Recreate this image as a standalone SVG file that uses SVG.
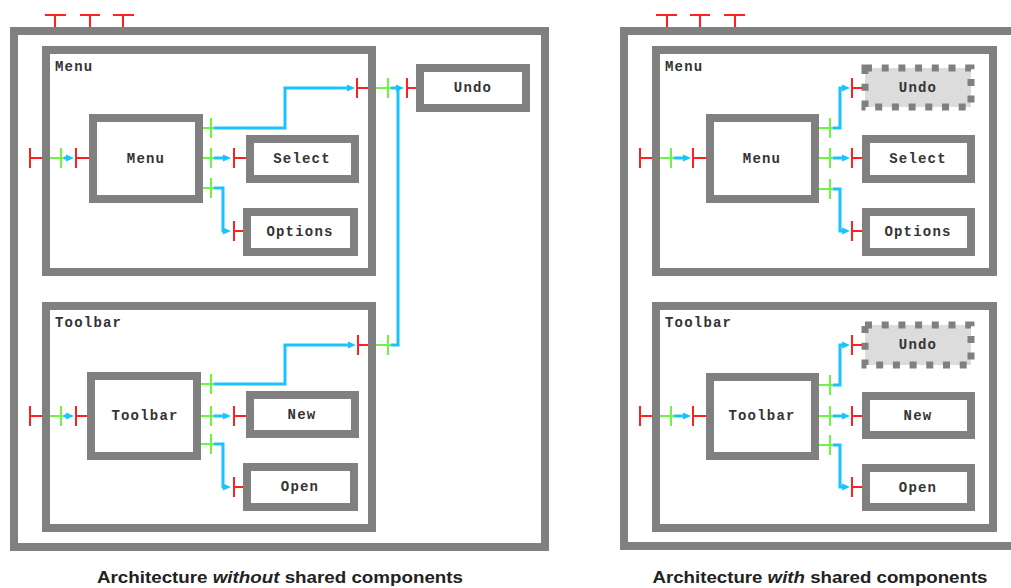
<svg xmlns="http://www.w3.org/2000/svg" width="1011" height="588" viewBox="0 0 1011 588">
<style>
.frame{fill:none;stroke:#808080;stroke-width:8}
.box{fill:#ffffff;stroke:#808080;stroke-width:8}
.shared{fill:#dcdcdc;stroke:#808080;stroke-width:7;stroke-dasharray:7 9.7}
.lbl{font-family:"Liberation Mono","Courier New",monospace;font-weight:bold;font-size:14px;letter-spacing:1.2px;fill:#333333;text-anchor:middle}
.clbl{font-family:"Liberation Mono","Courier New",monospace;font-weight:bold;font-size:14px;letter-spacing:1.2px;fill:#333333}
.rq{fill:none;stroke:#ff2020;stroke-width:2}
.pv{fill:none;stroke:#6cf542;stroke-width:2}
.ln{fill:none;stroke:#1ac3ff;stroke-width:3}
.arr{marker-end:url(#arr)}
.cap{font-family:"Liberation Sans",Arial,sans-serif;font-weight:bold;font-size:16px;fill:#222222;text-anchor:middle}
</style>
<defs>
<marker id="arr" markerUnits="userSpaceOnUse" markerWidth="9" markerHeight="8" refX="4" refY="4" orient="auto">
<path d="M0,0.5 L8,4 L0,7.5 z" fill="#1ac3ff"/>
</marker>
</defs>
<rect width="1011" height="588" fill="#ffffff"/>

<!-- LEFT: without shared components -->
<g id="left-frame"><rect class="frame" x="14" y="31" width="531" height="516"/></g>
<g id="left-menu-container"><rect class="frame" x="46" y="50" width="326" height="222"/><text class="clbl" x="55" y="71">Menu</text></g>
<g id="left-menu"><rect class="box" x="93" y="118" width="106" height="81"/><text class="lbl" x="146" y="163">Menu</text></g>
<g id="left-select"><rect class="box" x="250" y="139" width="105" height="40"/><text class="lbl" x="302" y="163">Select</text></g>
<g id="left-options"><rect class="box" x="247" y="212" width="107" height="40"/><text class="lbl" x="300" y="236">Options</text></g>
<g id="left-undo"><rect class="box" x="420" y="68" width="106" height="40"/><text class="lbl" x="473" y="92">Undo</text></g>
<g id="left-toolbar-container"><rect class="frame" x="46" y="306" width="326" height="222"/><text class="clbl" x="55" y="327">Toolbar</text></g>
<g id="left-toolbar"><rect class="box" x="91" y="376" width="106" height="80"/><text class="lbl" x="145" y="420">Toolbar</text></g>
<g id="left-new"><rect class="box" x="250" y="395" width="105" height="39"/><text class="lbl" x="302" y="419">New</text></g>
<g id="left-open"><rect class="box" x="247" y="467" width="107" height="40"/><text class="lbl" x="300" y="491">Open</text></g>

<!-- RIGHT: with shared components -->
<g id="right-frame"><rect class="frame" x="624" y="31" width="420" height="515"/></g>
<g id="right-menu-container"><rect class="frame" x="656" y="50" width="337" height="222"/><text class="clbl" x="665" y="71">Menu</text></g>
<g id="right-menu"><rect class="box" x="710" y="118" width="105" height="81"/><text class="lbl" x="762" y="163">Menu</text></g>
<g id="right-menu-undo"><rect class="shared" x="865" y="68" width="106" height="39"/><text class="lbl" x="918" y="92">Undo</text></g>
<g id="right-select"><rect class="box" x="866" y="139" width="105" height="40"/><text class="lbl" x="918" y="163">Select</text></g>
<g id="right-options"><rect class="box" x="866" y="212" width="105" height="40"/><text class="lbl" x="918" y="236">Options</text></g>
<g id="right-toolbar-container"><rect class="frame" x="656" y="306" width="337" height="222"/><text class="clbl" x="665" y="327">Toolbar</text></g>
<g id="right-toolbar"><rect class="box" x="710" y="377" width="105" height="79"/><text class="lbl" x="762" y="420">Toolbar</text></g>
<g id="right-toolbar-undo"><rect class="shared" x="865" y="325" width="106" height="40"/><text class="lbl" x="918" y="349">Undo</text></g>
<g id="right-new"><rect class="box" x="866" y="396" width="105" height="39"/><text class="lbl" x="918" y="420">New</text></g>
<g id="right-open"><rect class="box" x="866" y="468" width="105" height="39"/><text class="lbl" x="918" y="492">Open</text></g>

<g id="connectors">
<!-- left -->
<path class="ln arr" d="M64,158 H70"/>
<path class="ln arr" d="M214,128 H285 V88 H351"/>
<path class="ln arr" d="M214,158 H227"/>
<path class="ln arr" d="M214,188 H223 V231 H227"/>
<path class="ln arr" d="M391,88 H400"/>
<path class="ln" d="M391,345 H398 V88"/>
<path class="ln arr" d="M64,416 H70"/>
<path class="ln arr" d="M214,384 H285 V345 H352"/>
<path class="ln arr" d="M214,416 H227"/>
<path class="ln arr" d="M214,444 H223 V487 H227"/>
<!-- right -->
<path class="ln arr" d="M674,158 H687"/>
<path class="ln arr" d="M833,128 H840 V88 H846"/>
<path class="ln arr" d="M833,158 H846"/>
<path class="ln arr" d="M833,189 H840 V231 H846"/>
<path class="ln arr" d="M674,416 H687"/>
<path class="ln arr" d="M833,385 H840 V345 H846"/>
<path class="ln arr" d="M833,416 H846"/>
<path class="ln arr" d="M833,445 H840 V487 H846"/>
</g>

<g id="ports">
<!-- left required -->
<path class="rq" d="M45,15 H66 M55,15 V27 M80,15 H100 M90,15 V27 M113,15 H134 M123,15 V27"/>
<path class="rq" d="M30,148 V168 M30,158 H42"/>
<path class="rq" d="M76,148 V168 M76,158 H89"/>
<path class="rq" d="M357,78 V98 M357,88 H368"/>
<path class="rq" d="M234,148 V168 M234,158 H246"/>
<path class="rq" d="M234,221 V241 M234,231 H243"/>
<path class="rq" d="M407,78 V98 M407,88 H416"/>
<path class="rq" d="M30,406 V426 M30,416 H42"/>
<path class="rq" d="M76,406 V426 M76,416 H87"/>
<path class="rq" d="M358,335 V355 M358,345 H368"/>
<path class="rq" d="M234,406 V426 M234,416 H246"/>
<path class="rq" d="M234,477 V497 M234,487 H243"/>
<!-- left provided -->
<path class="pv" d="M50,158 H64 M61,148 V168"/>
<path class="pv" d="M203,128 H214 M211,118 V138"/>
<path class="pv" d="M203,158 H214 M211,148 V168"/>
<path class="pv" d="M203,188 H214 M211,178 V198"/>
<path class="pv" d="M376,88 H391 M388,78 V98"/>
<path class="pv" d="M50,416 H64 M61,406 V426"/>
<path class="pv" d="M201,384 H214 M211,374 V394"/>
<path class="pv" d="M201,416 H214 M211,406 V426"/>
<path class="pv" d="M201,444 H214 M211,434 V454"/>
<path class="pv" d="M376,345 H391 M388,335 V355"/>
<!-- right required -->
<path class="rq" d="M656,15 H677 M667,15 V27 M690,15 H710 M700,15 V27 M724,15 H745 M735,15 V27"/>
<path class="rq" d="M640,148 V168 M640,158 H652"/>
<path class="rq" d="M693,148 V168 M693,158 H706"/>
<path class="rq" d="M852,78 V98 M852,88 H862"/>
<path class="rq" d="M852,148 V168 M852,158 H862"/>
<path class="rq" d="M852,221 V241 M852,231 H862"/>
<path class="rq" d="M640,406 V426 M640,416 H652"/>
<path class="rq" d="M693,406 V426 M693,416 H706"/>
<path class="rq" d="M852,335 V355 M852,345 H862"/>
<path class="rq" d="M852,406 V426 M852,416 H862"/>
<path class="rq" d="M852,477 V497 M852,487 H862"/>
<!-- right provided -->
<path class="pv" d="M660,158 H674 M671,148 V168"/>
<path class="pv" d="M819,128 H833 M830,118 V138"/>
<path class="pv" d="M819,158 H833 M830,148 V168"/>
<path class="pv" d="M819,189 H833 M830,179 V199"/>
<path class="pv" d="M660,416 H674 M671,406 V426"/>
<path class="pv" d="M819,385 H833 M830,375 V395"/>
<path class="pv" d="M819,416 H833 M830,406 V426"/>
<path class="pv" d="M819,445 H833 M830,435 V455"/>
</g>

<g id="captions">
<text class="cap" x="280" y="583" textLength="366" lengthAdjust="spacingAndGlyphs">Architecture <tspan font-style="italic">without</tspan> shared components</text>
<text class="cap" x="820" y="583" textLength="335" lengthAdjust="spacingAndGlyphs">Architecture <tspan font-style="italic">with</tspan> shared components</text>
</g>
</svg>
